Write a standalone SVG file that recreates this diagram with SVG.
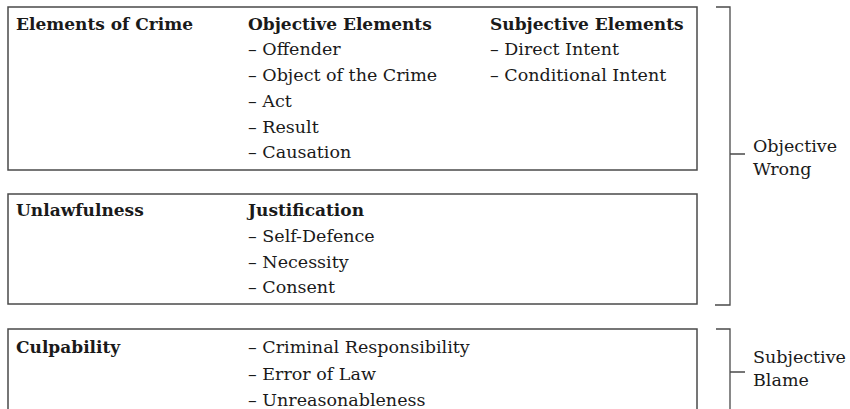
<svg xmlns="http://www.w3.org/2000/svg" width="850" height="409" viewBox="0 0 850 409">
<style>
.box{fill:#fff;stroke:#4a4a4a;stroke-width:1.5}
.br{fill:none;stroke:#4a4a4a;stroke-width:1.3}
text{font-family:"DejaVu Serif","Liberation Serif",serif;font-size:17.5px;fill:#1a1a1a}
.b{font-weight:bold;font-size:17px}
</style>
<rect width="850" height="409" fill="#fff"/>
<g id="elements">
<rect class="box" x="8" y="7" width="689" height="163"/>
<text class="b" x="16" y="29.5">Elements of Crime</text>
<text class="b" x="248" y="29.5">Objective Elements</text>
<text x="248" y="55.3">– Offender</text>
<text x="248" y="81">– Object of the Crime</text>
<text x="248" y="106.8">– Act</text>
<text x="248" y="132.5">– Result</text>
<text x="248" y="158.3">– Causation</text>
<text class="b" x="490" y="29.5">Subjective Elements</text>
<text x="490" y="55.3">– Direct Intent</text>
<text x="490" y="81">– Conditional Intent</text>
</g>
<g id="unlawfulness">
<rect class="box" x="8" y="194" width="689" height="110"/>
<text class="b" x="16" y="216">Unlawfulness</text>
<text class="b" x="248" y="216">Justification</text>
<text x="248" y="241.8">– Self-Defence</text>
<text x="248" y="267.5">– Necessity</text>
<text x="248" y="293.3">– Consent</text>
</g>
<g id="culpability">
<rect class="box" x="8" y="329" width="689" height="100"/>
<text class="b" x="16" y="353">Culpability</text>
<text x="248" y="353">– Criminal Responsibility</text>
<text x="248" y="379.5">– Error of Law</text>
<text x="248" y="405.5">– Unreasonableness</text>
</g>
<g id="connectors">
<path class="br" d="M716,7 H730 V305 H715 M730,154 H745"/>
<path class="br" d="M716,329 H730 V420 M730,372 H745"/>
</g>
<g id="objective-wrong">
<text x="753" y="152">Objective</text>
<text x="753" y="175">Wrong</text>
</g>
<g id="subjective-blame">
<text x="753" y="363">Subjective</text>
<text x="753" y="386">Blame</text>
</g>
</svg>
